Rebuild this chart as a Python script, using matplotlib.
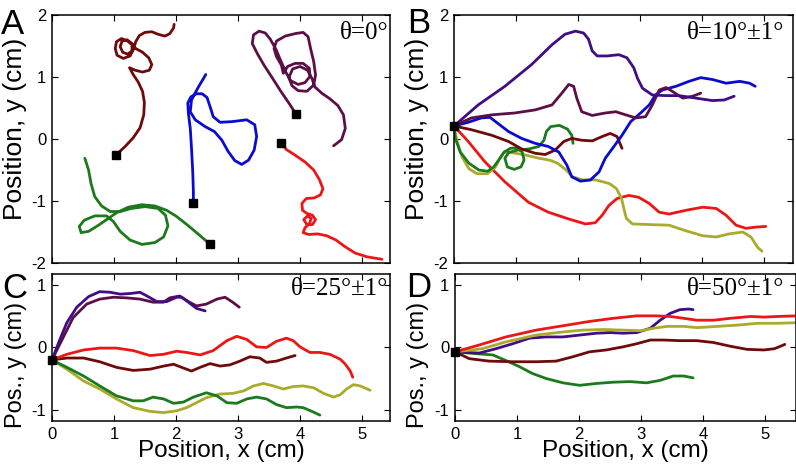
import numpy as np
import matplotlib
matplotlib.use('Agg')
import matplotlib.pyplot as plt

plt.rcParams.update({'font.family': 'Liberation Sans', 'axes.unicode_minus': False,
                     'xtick.direction': 'in', 'ytick.direction': 'in'})

MAROON = '#6e0a0a'
BLUE   = '#0a0ad2'
PLUM   = '#5c0f46'
RED    = '#ec1616'
GREEN  = '#1b7a1b'
OLIVE  = '#aaaa2c'
INDIGO = '#420c84'

# ── panel A: theta = 0, each track starts at its own square ──────────────────
a_maroon = [(1.03, -0.26), (1.18, -0.12), (1.31, 0.02), (1.42, 0.18), (1.48, 0.39),
            (1.49, 0.59), (1.46, 0.77), (1.39, 0.92), (1.31, 1.04), (1.25, 1.15),
            (1.34, 1.11), (1.46, 1.08), (1.57, 1.11), (1.61, 1.20), (1.56, 1.31),
            (1.46, 1.40), (1.35, 1.46), (1.29, 1.54), (1.21, 1.60), (1.13, 1.58),
            (1.10, 1.49), (1.14, 1.40), (1.22, 1.37), (1.29, 1.42), (1.29, 1.52),
            (1.22, 1.58), (1.12, 1.62), (1.04, 1.57), (1.02, 1.46), (1.05, 1.35),
            (1.15, 1.30), (1.26, 1.34), (1.32, 1.46), (1.35, 1.57), (1.41, 1.67),
            (1.50, 1.72), (1.61, 1.73), (1.71, 1.69), (1.82, 1.66), (1.90, 1.70),
            (1.96, 1.79), (1.97, 1.85)]
a_blue = [(2.28, -1.04), (2.28, -0.85), (2.27, -0.53), (2.25, -0.15), (2.23, 0.17),
          (2.20, 0.41), (2.19, 0.58), (2.24, 0.68), (2.33, 0.73), (2.42, 0.73),
          (2.50, 0.67), (2.55, 0.52), (2.60, 0.36), (2.71, 0.27), (2.90, 0.28),
          (3.14, 0.31), (3.27, 0.23), (3.30, 0.04), (3.26, -0.18), (3.17, -0.34),
          (3.06, -0.41), (2.95, -0.35), (2.84, -0.20), (2.74, -0.02), (2.62, 0.12),
          (2.47, 0.20), (2.31, 0.31), (2.23, 0.44), (2.25, 0.63), (2.35, 0.82),
          (2.48, 1.04)]
a_plum = [(3.93, 0.41), (3.82, 0.58), (3.69, 0.77), (3.55, 0.99), (3.42, 1.19),
          (3.31, 1.38), (3.23, 1.54), (3.25, 1.68), (3.34, 1.74), (3.44, 1.71),
          (3.52, 1.61), (3.61, 1.45), (3.69, 1.26), (3.77, 1.08), (3.85, 0.94),
          (3.97, 0.88), (4.08, 0.91), (4.16, 1.01), (4.15, 1.14), (4.05, 1.22),
          (3.92, 1.22), (3.80, 1.17), (3.73, 1.06), (3.70, 1.19), (3.62, 1.33),
          (3.58, 1.46), (3.62, 1.58), (3.76, 1.66), (3.92, 1.70), (4.05, 1.72),
          (4.13, 1.65), (4.17, 1.46), (4.22, 1.25), (4.25, 1.03), (4.22, 0.87),
          (4.11, 0.77), (3.97, 0.78), (3.87, 0.86), (3.82, 0.99), (3.88, 1.13),
          (4.00, 1.17), (4.12, 1.11), (4.19, 0.98), (4.24, 0.84), (4.35, 0.74),
          (4.48, 0.65), (4.61, 0.54), (4.70, 0.39), (4.73, 0.17), (4.67, -0.01),
          (4.54, -0.11)]
a_red = [(3.69, -0.06), (3.78, -0.17), (3.92, -0.26), (4.08, -0.37), (4.22, -0.50),
         (4.31, -0.65), (4.37, -0.80), (4.33, -0.90), (4.23, -0.95), (4.10, -0.96),
         (4.03, -1.04), (4.04, -1.15), (4.11, -1.20), (4.20, -1.23), (4.25, -1.30),
         (4.20, -1.38), (4.11, -1.38), (4.06, -1.30), (4.12, -1.24), (4.18, -1.28),
         (4.15, -1.37), (4.08, -1.43), (4.05, -1.51), (4.14, -1.54), (4.28, -1.53),
         (4.43, -1.56), (4.58, -1.63), (4.73, -1.74), (4.89, -1.84), (5.08, -1.90),
         (5.32, -1.94)]
a_green = [(2.55, -1.70), (2.39, -1.56), (2.20, -1.40), (2.01, -1.25), (1.85, -1.15),
           (1.66, -1.08), (1.45, -1.06), (1.23, -1.10), (1.04, -1.19), (0.91, -1.28),
           (0.75, -1.39), (0.59, -1.49), (0.47, -1.51), (0.44, -1.41), (0.52, -1.31),
           (0.69, -1.24), (0.88, -1.24), (0.99, -1.33), (1.10, -1.49), (1.26, -1.63),
           (1.45, -1.70), (1.66, -1.67), (1.80, -1.58), (1.87, -1.40), (1.83, -1.23),
           (1.71, -1.12), (1.50, -1.09), (1.28, -1.12), (1.10, -1.17), (0.94, -1.17),
           (0.80, -1.08), (0.69, -0.93), (0.63, -0.72), (0.59, -0.50), (0.53, -0.31)]

# ── panel B: theta = 10 deg ──────────────────────────────────────────────────
b_indigo = [(0.00, 0.21), (0.39, 0.55), (0.82, 0.85), (1.25, 1.20), (1.58, 1.52),
            (1.79, 1.69), (1.96, 1.74), (2.09, 1.71), (2.17, 1.61), (2.23, 1.42),
            (2.31, 1.34), (2.47, 1.34), (2.66, 1.36), (2.79, 1.31), (2.90, 1.15),
            (2.96, 0.98), (3.04, 0.82), (3.20, 0.71), (3.42, 0.70), (3.63, 0.70),
            (3.90, 0.66), (4.17, 0.62), (4.36, 0.63), (4.52, 0.69)]
b_plum = [(0.00, 0.21), (0.28, 0.34), (0.61, 0.39), (0.98, 0.42), (1.31, 0.47),
          (1.58, 0.55), (1.74, 0.74), (1.85, 0.88), (1.93, 0.85), (1.98, 0.66),
          (2.06, 0.44), (2.23, 0.38), (2.44, 0.42), (2.61, 0.44), (2.77, 0.39),
          (2.93, 0.34), (3.09, 0.36), (3.20, 0.55), (3.31, 0.79), (3.42, 0.83),
          (3.52, 0.77), (3.69, 0.66), (3.85, 0.69), (3.98, 0.74)]
b_blue = [(0.00, 0.21), (0.23, 0.27), (0.44, 0.34), (0.58, 0.35), (0.71, 0.25),
          (0.88, 0.12), (1.09, 0.01), (1.31, -0.07), (1.52, -0.12), (1.69, -0.21),
          (1.82, -0.42), (1.90, -0.61), (2.04, -0.68), (2.20, -0.66), (2.34, -0.53),
          (2.44, -0.31), (2.58, -0.12), (2.71, 0.06), (2.85, 0.28), (3.01, 0.42),
          (3.15, 0.55), (3.25, 0.71), (3.36, 0.79), (3.58, 0.85), (3.79, 0.93),
          (3.98, 0.99), (4.17, 0.96), (4.39, 0.90), (4.61, 0.93), (4.77, 0.90),
          (4.86, 0.85)]
b_maroon = [(0.00, 0.21), (0.28, 0.15), (0.61, 0.06), (0.88, -0.04), (1.09, -0.16),
            (1.31, -0.23), (1.47, -0.25), (1.63, -0.18), (1.77, -0.04), (1.90, 0.01),
            (2.06, -0.02), (2.23, -0.03), (2.39, 0.04), (2.52, 0.09), (2.63, 0.04),
            (2.71, -0.15)]
b_green = [(0.00, 0.20), (0.02, 0.01), (0.10, -0.21), (0.24, -0.39), (0.40, -0.50),
           (0.54, -0.52), (0.64, -0.45), (0.72, -0.34), (0.81, -0.21), (0.91, -0.15),
           (1.02, -0.14), (1.10, -0.21), (1.13, -0.34), (1.08, -0.45), (0.97, -0.49),
           (0.86, -0.45), (0.82, -0.31), (0.88, -0.22), (1.02, -0.18), (1.21, -0.16),
           (1.37, -0.12), (1.45, -0.02), (1.49, 0.12), (1.56, 0.20), (1.70, 0.22),
           (1.83, 0.16), (1.90, 0.06), (1.92, -0.07)]
b_olive = [(0.00, 0.20), (0.05, -0.04), (0.13, -0.29), (0.24, -0.48), (0.37, -0.56),
           (0.54, -0.56), (0.67, -0.45), (0.75, -0.29), (0.81, -0.21), (0.94, -0.22),
           (1.16, -0.26), (1.37, -0.31), (1.54, -0.34), (1.67, -0.39), (1.81, -0.50),
           (1.91, -0.61), (2.08, -0.66), (2.29, -0.66), (2.51, -0.72), (2.62, -0.80),
           (2.70, -0.95), (2.74, -1.12), (2.78, -1.28), (2.88, -1.37), (3.15, -1.38),
           (3.47, -1.39), (3.74, -1.48), (4.01, -1.56), (4.23, -1.58), (4.44, -1.53),
           (4.66, -1.50), (4.79, -1.58), (4.90, -1.75), (4.97, -1.81)]
b_red = [(0.00, 0.21), (0.23, -0.04), (0.50, -0.37), (0.82, -0.69), (1.20, -1.02),
         (1.52, -1.18), (1.85, -1.29), (2.12, -1.37), (2.28, -1.35), (2.39, -1.23),
         (2.50, -1.07), (2.63, -0.96), (2.82, -0.91), (2.98, -0.94), (3.15, -1.04),
         (3.31, -1.18), (3.47, -1.21), (3.74, -1.15), (4.01, -1.10), (4.23, -1.12),
         (4.39, -1.23), (4.55, -1.39), (4.71, -1.44), (4.88, -1.42), (5.03, -1.41)]

# ── panel C: theta = 25 deg ──────────────────────────────────────────────────
c_indigo = [(0.00, -0.20), (0.12, 0.11), (0.24, 0.40), (0.40, 0.65), (0.59, 0.82),
            (0.77, 0.90), (0.94, 0.89), (1.10, 0.86), (1.26, 0.87), (1.42, 0.89),
            (1.55, 0.82), (1.69, 0.74), (1.85, 0.74), (2.01, 0.81), (2.09, 0.81),
            (2.20, 0.73), (2.33, 0.63), (2.47, 0.59)]
c_plum = [(0.00, -0.20), (0.18, 0.16), (0.34, 0.48), (0.56, 0.70), (0.77, 0.78),
          (0.99, 0.81), (1.20, 0.80), (1.42, 0.78), (1.63, 0.73), (1.80, 0.73),
          (1.90, 0.80), (2.06, 0.83), (2.20, 0.74), (2.33, 0.67), (2.49, 0.70),
          (2.66, 0.78), (2.79, 0.81), (2.90, 0.74), (3.02, 0.65)]
c_red = [(0.00, -0.20), (0.24, -0.11), (0.51, -0.04), (0.77, -0.01), (1.04, -0.01),
         (1.31, -0.05), (1.58, -0.13), (1.80, -0.11), (2.01, -0.06), (2.17, -0.08),
         (2.39, -0.12), (2.60, -0.05), (2.82, 0.11), (2.98, 0.18), (3.14, 0.13),
         (3.30, 0.01), (3.46, 0.00), (3.62, 0.10), (3.78, 0.15), (3.89, 0.11),
         (4.00, 0.01), (4.16, -0.08), (4.32, -0.08), (4.48, -0.11), (4.65, -0.19),
         (4.73, -0.27), (4.81, -0.38), (4.85, -0.48)]
c_maroon = [(0.00, -0.20), (0.24, -0.17), (0.51, -0.17), (0.77, -0.23), (1.04, -0.32),
            (1.31, -0.37), (1.58, -0.35), (1.80, -0.30), (1.96, -0.27), (2.09, -0.32),
            (2.25, -0.38), (2.39, -0.32), (2.55, -0.26), (2.71, -0.30), (2.87, -0.28),
            (3.03, -0.22), (3.19, -0.15), (3.35, -0.17), (3.46, -0.24), (3.62, -0.22),
            (3.78, -0.17), (3.92, -0.13)]
c_green = [(0.00, -0.20), (0.24, -0.32), (0.51, -0.46), (0.77, -0.62), (1.04, -0.78),
           (1.31, -0.86), (1.47, -0.86), (1.63, -0.80), (1.80, -0.83), (1.96, -0.90),
           (2.12, -0.88), (2.28, -0.80), (2.49, -0.73), (2.66, -0.78), (2.82, -0.89),
           (2.98, -0.90), (3.14, -0.83), (3.30, -0.80), (3.46, -0.83), (3.62, -0.92),
           (3.78, -0.97), (3.95, -0.96), (4.05, -0.97), (4.19, -1.03), (4.32, -1.09)]
c_olive = [(0.00, -0.20), (0.24, -0.35), (0.51, -0.54), (0.77, -0.67), (1.04, -0.83),
           (1.31, -0.97), (1.58, -1.03), (1.80, -1.05), (2.01, -1.02), (2.17, -0.97),
           (2.33, -0.89), (2.49, -0.81), (2.71, -0.75), (2.92, -0.74), (3.09, -0.70),
           (3.25, -0.62), (3.41, -0.58), (3.57, -0.62), (3.73, -0.67), (3.89, -0.63),
           (4.05, -0.62), (4.22, -0.65), (4.38, -0.74), (4.54, -0.80), (4.65, -0.76),
           (4.75, -0.67), (4.86, -0.60), (4.97, -0.62), (5.13, -0.69)]

# ── panel D: theta = 50 deg ──────────────────────────────────────────────────
d_red = [(0.00, -0.07), (0.39, 0.04), (0.82, 0.17), (1.31, 0.28), (1.74, 0.35),
         (2.17, 0.42), (2.55, 0.47), (2.93, 0.51), (3.25, 0.51), (3.47, 0.50),
         (3.69, 0.47), (3.90, 0.44), (4.17, 0.44), (4.44, 0.47), (4.77, 0.50),
         (4.98, 0.49), (5.20, 0.50), (5.52, 0.51)]
d_olive = [(0.00, -0.07), (0.44, -0.02), (0.82, 0.09), (1.31, 0.20), (1.74, 0.25),
           (2.06, 0.28), (2.39, 0.29), (2.71, 0.28), (3.00, 0.27), (3.20, 0.31),
           (3.42, 0.34), (3.69, 0.34), (3.90, 0.32), (4.23, 0.34), (4.55, 0.36),
           (4.88, 0.39), (5.20, 0.39), (5.52, 0.40)]
d_indigo = [(0.00, -0.07), (0.39, -0.09), (0.66, -0.02), (0.93, 0.06), (1.20, 0.15),
            (1.47, 0.17), (1.74, 0.17), (2.01, 0.20), (2.28, 0.23), (2.50, 0.24),
            (2.71, 0.23), (2.93, 0.24), (3.15, 0.31), (3.31, 0.44), (3.47, 0.55),
            (3.63, 0.61), (3.77, 0.62), (3.84, 0.61)]
d_maroon = [(0.00, -0.07), (0.23, -0.18), (0.55, -0.22), (0.93, -0.23), (1.31, -0.23),
            (1.63, -0.22), (1.90, -0.15), (2.17, -0.07), (2.44, -0.04), (2.71, 0.01),
            (2.93, 0.06), (3.15, 0.12), (3.36, 0.12), (3.63, 0.11), (3.90, 0.11),
            (4.17, 0.08), (4.44, 0.02), (4.71, -0.03), (4.98, -0.04), (5.15, -0.02),
            (5.25, 0.02), (5.32, 0.05)]
d_green = [(0.00, -0.07), (0.34, -0.10), (0.61, -0.12), (0.82, -0.21), (1.04, -0.31),
           (1.25, -0.42), (1.47, -0.50), (1.74, -0.57), (2.01, -0.61), (2.28, -0.58),
           (2.55, -0.56), (2.82, -0.55), (3.09, -0.57), (3.31, -0.53), (3.52, -0.46),
           (3.69, -0.46), (3.84, -0.49)]

PANELS = [
    ('A', 'θ=0°', [(a_maroon, MAROON), (a_blue, BLUE), (a_plum, PLUM),
                   (a_red, RED), (a_green, GREEN)]),
    ('B', 'θ=10°±1°', [(b_red, RED), (b_olive, OLIVE), (b_green, GREEN), (b_maroon, MAROON),
                       (b_blue, BLUE), (b_plum, PLUM), (b_indigo, INDIGO)]),
    ('C', 'θ=25°±1°', [(c_olive, OLIVE), (c_green, GREEN), (c_maroon, MAROON),
                       (c_red, RED), (c_plum, PLUM), (c_indigo, INDIGO)]),
    ('D', 'θ=50°±1°', [(d_green, GREEN), (d_maroon, MAROON), (d_indigo, INDIGO),
                       (d_olive, OLIVE), (d_red, RED)]),
]

fig = plt.figure(figsize=(7.96, 4.71), dpi=100)
rects = {'A': [0.0653, 0.4416, 0.4246, 0.5265], 'B': [0.5704, 0.4416, 0.4259, 0.5265],
         'C': [0.0653, 0.1062, 0.4246, 0.3121], 'D': [0.5716, 0.1062, 0.4284, 0.3121]}
xlims = {'A': 5.45, 'B': 5.47, 'C': 5.45, 'D': 5.5}
theta_x = {'A': 0.995, 'B': 0.975, 'C': 0.995, 'D': 0.965}
letter_pos = {'A': (0.016, 0.928), 'B': (0.526, 0.930), 'C': (0.019, 0.367), 'D': (0.526, 0.369)}

for letter, theta, tracks in PANELS:
    ax = fig.add_axes(rects[letter])
    top = letter in 'AB'
    for pts, col in tracks:
        xy = np.array(pts)
        ax.plot(xy[:, 0], xy[:, 1], color=col, lw=2.0, solid_joinstyle='round',
                solid_capstyle='round')
        if letter == 'A':
            ax.plot(xy[0, 0], xy[0, 1], 's', color='k', ms=5.5, zorder=5)
    if letter != 'A':
        xy0 = np.array(tracks[0][0])[0]
        ax.plot(xy0[0], xy0[1], 's', color='k', ms=5.5, zorder=5, clip_on=False)

    ax.set_xlim(0, xlims[letter])
    ax.set_xticks([0, 1, 2, 3, 4, 5])
    if top:
        ax.set_ylim(-2, 2)
        ax.set_yticks([-2, -1, 0, 1, 2])
        ax.set_ylabel('Position, y (cm)', fontsize=19)
        ax.yaxis.set_label_coords(-0.075, 0.54)
        ax.tick_params(labelbottom=False)
    else:
        ax.set_ylim(-1.185, 1.185)
        ax.set_yticks([-1, 0, 1])
        ax.set_ylabel('Pos., y (cm)', fontsize=17)
        ax.yaxis.set_label_coords(-0.075, 0.38)
        ax.set_xlabel('Position, x (cm)', fontsize=17.5)
        ax.xaxis.set_label_coords(0.5, -0.13)
    ax.tick_params(top=True, right=True, length=4, width=0.8, labelsize=12, pad=4)
    for s in ax.spines.values():
        s.set_linewidth(1.1)
    ax.text(theta_x[letter], 0.97, theta, transform=ax.transAxes, ha='right', va='top',
            fontsize=18, family='Liberation Serif')
    fig.text(*letter_pos[letter], letter, fontsize=25, ha='center', va='baseline')

fig.savefig('out.png', dpi=100)
